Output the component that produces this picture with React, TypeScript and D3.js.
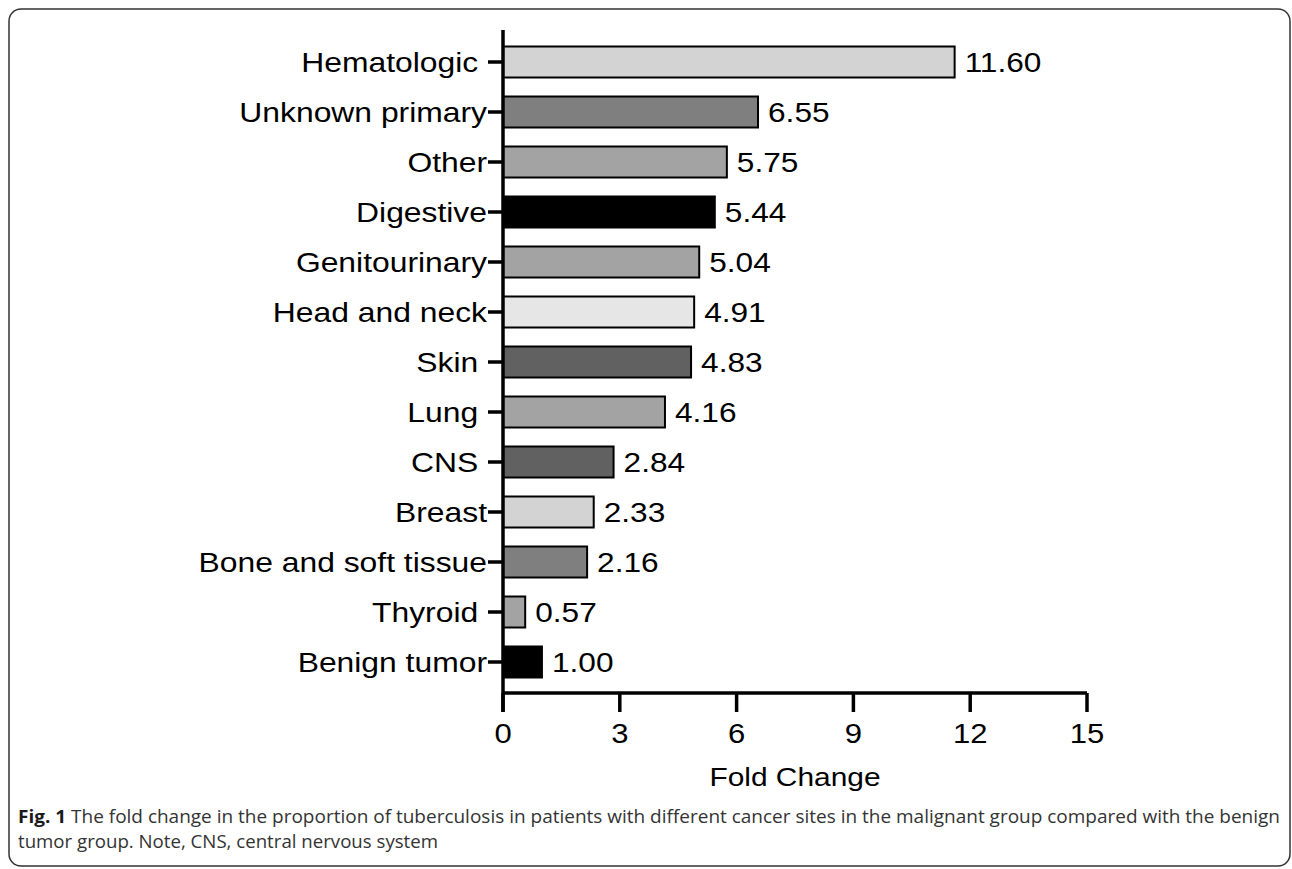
import React from "react";
import * as d3 from "d3";

const categories = [
  "Hematologic ",
  "Unknown primary",
  "Other",
  "Digestive",
  "Genitourinary",
  "Head and neck",
  "Skin ",
  "Lung ",
  "CNS ",
  "Breast",
  "Bone and soft tissue",
  "Thyroid ",
  "Benign tumor",
];
const values = [11.6, 6.55, 5.75, 5.44, 5.04, 4.91, 4.83, 4.16, 2.84, 2.33, 2.16, 0.57, 1.0];
const fills = [
  "#d3d3d3", "#7f7f7f", "#a3a3a3", "#000000", "#a3a3a3", "#e6e6e6",
  "#616161", "#a3a3a3", "#616161", "#d3d3d3", "#7f7f7f", "#a3a3a3", "#000000",
];
const xTicks = [0, 3, 6, 9, 12, 15];
const xTitle = "Fold Change";
const captionBold = "Fig. 1";
const captionLine1 = " The fold change in the proportion of tuberculosis in patients with different cancer sites in the malignant group compared with the benign";
const captionLine2 = "tumor group. Note, CNS, central nervous system";

const SX = 1.15;

function T(props: { x: number; y: number; anchor?: string; size: number; children: React.ReactNode; pre?: boolean }) {
  return (
    <text
      transform={`translate(${props.x},${props.y}) scale(${SX},1)`}
      dy="0.36em"
      textAnchor={props.anchor || "start"}
      fontFamily="'Liberation Sans', Arial, sans-serif"
      fontSize={props.size}
      fill="#000"
      style={props.pre ? { whiteSpace: "pre" } : undefined}
    >
      {props.children}
    </text>
  );
}

export default function App() {
  const W = 1292, H = 869;
  const x = d3.scaleLinear().domain([0, 15]).range([503, 1087]);
  const y = d3.scaleBand<string>().domain(categories).range([37, 687]).paddingInner(0.38).paddingOuter(0.19);
  const axisY = 693;
  return (
    <svg width={W} height={H} style={{ position: "absolute", left: 0, top: 0, background: "#fff" }}>
      <rect x={9} y={9} width={1281} height={857} rx={12} ry={12} fill="none" stroke="#333" strokeWidth={1.5} />
      {categories.map((c, i) => {
        const cy = y(c)! + y.bandwidth() / 2;
        return (
          <g key={c}>
            <rect
              x={x(0)}
              y={y(c)!}
              width={x(values[i]) - x(0)}
              height={y.bandwidth()}
              fill={fills[i]}
              stroke="#000"
              strokeWidth={2}
            />
            <T x={x(values[i]) + 10} y={cy} size={27.5}>{values[i].toFixed(2)}</T>
            <line x1={x(0) - 15} x2={x(0)} y1={cy} y2={cy} stroke="#000" strokeWidth={3.5} />
            <T x={x(0) - 16} y={cy} size={27.7} anchor="end" pre>{c}</T>
          </g>
        );
      })}
      <line x1={x(0)} x2={x(0)} y1={30} y2={axisY + 19} stroke="#000" strokeWidth={3.5} />
      <line x1={x(0)} x2={x(15)} y1={axisY} y2={axisY} stroke="#000" strokeWidth={3.5} />
      {xTicks.map((t) => (
        <g key={t}>
          <line x1={x(t)} x2={x(t)} y1={axisY} y2={axisY + 19} stroke="#000" strokeWidth={3.5} />
          <T x={x(t)} y={axisY + 40} size={27} anchor="middle">{t}</T>
        </g>
      ))}
      <T x={(x(0) + x(15)) / 2} y={777} size={26} anchor="middle">{xTitle}</T>
      <text x={18} y={823} fontFamily="'Open Sans', sans-serif" fontSize={17.5} fill="#333" textLength={1262} lengthAdjust="spacingAndGlyphs">
        <tspan fontWeight="bold" fill="#1a1a1a">{captionBold}</tspan>
        <tspan>{captionLine1}</tspan>
      </text>
      <text x={18} y={848} fontFamily="'Open Sans', sans-serif" fontSize={17.5} fill="#333" textLength={420} lengthAdjust="spacingAndGlyphs">
        {captionLine2}
      </text>
    </svg>
  );
}
